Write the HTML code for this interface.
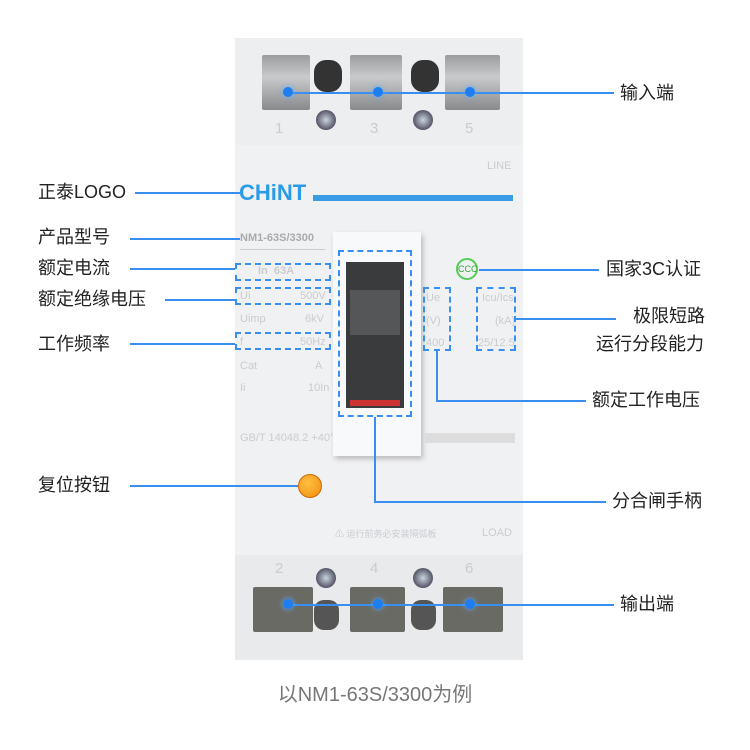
<!DOCTYPE html>
<html><head><meta charset="utf-8"><style>
body{margin:0;width:750px;height:750px;background:#fff;position:relative;overflow:hidden;font-family:"Liberation Sans","Noto Sans CJK SC",sans-serif}
.a{position:absolute}
.lbl{position:absolute;font-size:18px;color:#222;white-space:nowrap;line-height:20px}
.h{position:absolute;height:1.5px;background:#3a8ef0}
.v{position:absolute;width:1.5px;background:#3a8ef0}
.d{position:absolute;border:2px dashed #3a8ef0;box-sizing:border-box}
.t{position:absolute;font-size:11px;color:#c9ccd0;white-space:nowrap}
.term{position:absolute;background:linear-gradient(#9a9c9e,#c8cacc 40%,#87898b);border-radius:2px}
.dot{position:absolute;width:10px;height:10px;border-radius:50%;background:#1e7ef0;box-shadow:0 0 6px #5ab0ff}
.scr{position:absolute;width:20px;height:20px;border-radius:50%;background:radial-gradient(#c8d4e0,#556 70%,#333)}
</style></head><body>
<!-- body -->
<div class="a" style="left:235px;top:38px;width:288px;height:110px;background:#eceef0"></div>
<div class="a" style="left:235px;top:145px;width:288px;height:410px;background:#f0f1f3"></div>
<div class="a" style="left:235px;top:555px;width:288px;height:105px;background:#e8eaec"></div>
<!-- top terminals -->
<div class="term" style="left:262px;top:55px;width:48px;height:55px"></div>
<div class="term" style="left:350px;top:55px;width:52px;height:55px"></div>
<div class="term" style="left:445px;top:55px;width:55px;height:55px"></div>
<div class="a" style="left:314px;top:60px;width:28px;height:32px;border-radius:12px;background:#333"></div>
<div class="a" style="left:411px;top:60px;width:28px;height:32px;border-radius:12px;background:#333"></div>
<div class="scr" style="left:316px;top:110px"></div>
<div class="scr" style="left:413px;top:110px"></div>
<div class="t" style="left:275px;top:120px;font-size:15px">1</div>
<div class="t" style="left:370px;top:120px;font-size:15px">3</div>
<div class="t" style="left:465px;top:120px;font-size:15px">5</div>
<div class="t" style="left:487px;top:160px">LINE</div>
<!-- logo -->
<div class="a" style="left:239px;top:180px;font-size:22px;font-weight:bold;color:#2a9be6">CHiNT</div>
<div class="a" style="left:313px;top:195px;width:200px;height:6px;background:#3a9be6"></div>
<div class="a" style="left:240px;top:232px;font-size:11px;color:#aaa;font-weight:bold">NM1-63S/3300</div>
<div class="a" style="left:240px;top:249px;width:85px;height:1px;background:#ccc"></div>
<div class="t" style="left:258px;top:265px;font-weight:bold">In&nbsp;&nbsp;63A</div>
<div class="t" style="left:240px;top:290px">Ui</div><div class="t" style="left:300px;top:290px">500V</div>
<div class="t" style="left:240px;top:313px">Uimp</div><div class="t" style="left:305px;top:313px">6kV</div>
<div class="t" style="left:240px;top:336px">f</div><div class="t" style="left:300px;top:336px">50Hz</div>
<div class="t" style="left:240px;top:360px">Cat</div><div class="t" style="left:315px;top:360px">A</div>
<div class="t" style="left:240px;top:382px">Ii</div><div class="t" style="left:308px;top:382px">10In</div>
<div class="t" style="left:240px;top:432px">GB/T 14048.2 +40°C</div>
<div class="d" style="left:235px;top:263px;width:96px;height:18px"></div>
<div class="d" style="left:235px;top:287px;width:96px;height:18px"></div>
<div class="d" style="left:235px;top:332px;width:96px;height:18px"></div>
<!-- handle -->
<div class="a" style="left:333px;top:232px;width:88px;height:224px;background:#f8f9fa;box-shadow:2px 3px 5px #bbb"></div>
<div class="a" style="left:346px;top:262px;width:58px;height:146px;background:#3a3b3d"></div>
<div class="a" style="left:350px;top:290px;width:50px;height:45px;background:#555658"></div>
<div class="a" style="left:350px;top:400px;width:50px;height:6px;background:#c33"></div>
<div class="d" style="left:338px;top:250px;width:74px;height:167px"></div>
<!-- right info -->
<div class="a" style="left:456px;top:258px;width:22px;height:22px;border-radius:50%;border:2px solid #5c5;box-sizing:border-box;color:#3a3;font-size:9px;text-align:center;line-height:18px">CCC</div>
<div class="t" style="left:426px;top:292px">Ue</div><div class="t" style="left:426px;top:315px">(V)</div><div class="t" style="left:426px;top:337px">400</div>
<div class="t" style="left:482px;top:292px">Icu/Ics</div><div class="t" style="left:495px;top:315px">(kA)</div><div class="t" style="left:478px;top:337px">25/12.5</div>
<div class="d" style="left:423px;top:287px;width:28px;height:64px"></div>
<div class="d" style="left:476px;top:287px;width:40px;height:64px"></div>
<div class="a" style="left:425px;top:433px;width:90px;height:10px;background:#ddd"></div>
<div class="a" style="left:298px;top:474px;width:22px;height:22px;border-radius:50%;background:radial-gradient(circle at 40% 35%,#ffc040,#f08c10);border:1px solid #c60"></div>
<div class="t" style="left:335px;top:527px;font-size:9px">⚠ 运行前务必安装隔弧板</div>
<div class="t" style="left:482px;top:527px">LOAD</div>
<!-- bottom -->
<div class="t" style="left:275px;top:560px;font-size:15px">2</div>
<div class="t" style="left:370px;top:560px;font-size:15px">4</div>
<div class="t" style="left:465px;top:560px;font-size:15px">6</div>
<div class="scr" style="left:316px;top:568px"></div>
<div class="scr" style="left:413px;top:568px"></div>
<div class="term" style="left:253px;top:587px;width:60px;height:45px;background:#6a6a65"></div>
<div class="term" style="left:350px;top:587px;width:55px;height:45px;background:#6a6a65"></div>
<div class="term" style="left:443px;top:587px;width:60px;height:45px;background:#6a6a65"></div>
<div class="a" style="left:314px;top:600px;width:25px;height:30px;border-radius:10px;background:#555"></div>
<div class="a" style="left:411px;top:600px;width:25px;height:30px;border-radius:10px;background:#555"></div>
<!-- connectors -->
<div class="h" style="left:288px;top:92px;width:326px"></div>
<div class="dot" style="left:283px;top:87px"></div><div class="dot" style="left:373px;top:87px"></div><div class="dot" style="left:465px;top:87px"></div>
<div class="h" style="left:288px;top:604px;width:326px"></div>
<div class="dot" style="left:283px;top:599px"></div><div class="dot" style="left:373px;top:599px"></div><div class="dot" style="left:465px;top:599px"></div>
<div class="h" style="left:135px;top:192px;width:105px"></div>
<div class="h" style="left:130px;top:238px;width:110px"></div>
<div class="h" style="left:130px;top:268px;width:105px"></div>
<div class="h" style="left:165px;top:299px;width:70px"></div>
<div class="h" style="left:130px;top:343px;width:105px"></div>
<div class="h" style="left:130px;top:485px;width:168px"></div>
<div class="h" style="left:479px;top:269px;width:120px"></div>
<div class="h" style="left:516px;top:318px;width:100px"></div>
<div class="v" style="left:436px;top:351px;height:50px"></div>
<div class="h" style="left:436px;top:400px;width:150px"></div>
<div class="v" style="left:374px;top:417px;height:85px"></div>
<div class="h" style="left:374px;top:501px;width:232px"></div>
<!-- labels -->
<div class="lbl" style="left:38px;top:182px">正泰LOGO</div>
<div class="lbl" style="left:38px;top:227px">产品型号</div>
<div class="lbl" style="left:38px;top:258px">额定电流</div>
<div class="lbl" style="left:38px;top:289px">额定绝缘电压</div>
<div class="lbl" style="left:38px;top:334px">工作频率</div>
<div class="lbl" style="left:38px;top:475px">复位按钮</div>
<div class="lbl" style="left:620px;top:83px">输入端</div>
<div class="lbl" style="left:606px;top:259px">国家3C认证</div>
<div class="lbl" style="left:633px;top:306px">极限短路</div>
<div class="lbl" style="left:596px;top:334px">运行分段能力</div>
<div class="lbl" style="left:592px;top:390px">额定工作电压</div>
<div class="lbl" style="left:612px;top:491px">分合闸手柄</div>
<div class="lbl" style="left:620px;top:594px">输出端</div>
<div class="a" style="left:0;width:750px;top:678px;text-align:center;font-size:20px;color:#777">以NM1-63S/3300为例</div>
</body></html>
